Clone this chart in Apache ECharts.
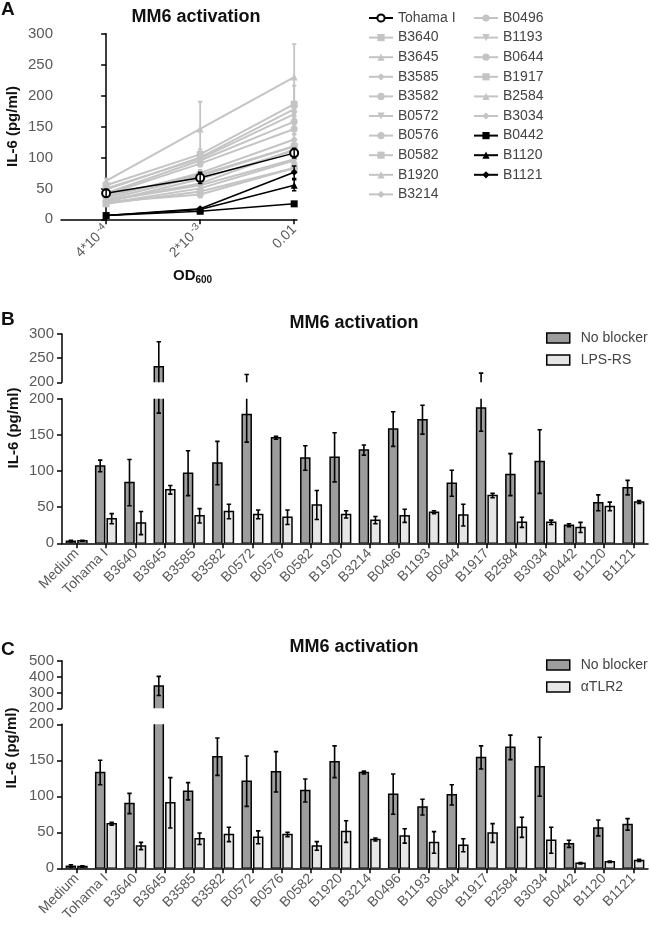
<!DOCTYPE html>
<html><head><meta charset="utf-8">
<script src="https://cdn.jsdelivr.net/npm/echarts@6/dist/echarts.min.js"></script>
<style>html,body{margin:0;padding:0;background:#fff}#c{width:650px;height:937px}</style>
</head><body><div id="c"></div>
<script>
// ---------- Panel A data ----------
const odLabels = [['4*10', '-4'], ['2*10', '-3'], ['0.01', '']];
const strainsA = ['Tohama I','B3640','B3645','B3585','B3582','B0572','B0576','B0582','B1920','B3214',
                  'B0496','B1193','B0644','B1917','B2584','B3034','B0442','B1120','B1121'];
const aLow  = [42, 25, 62, 30, 28, 48, 40, 38, 32, 35, 42, 50, 28, 55, 26, 30, 6, 6, 6];
const aMid  = [67, 45, 146, 55, 65, 100, 90, 72, 70, 75, 95, 98, 40, 105, 50, 58, 13, 16, 17];
const aHigh = [107, 83, 230, 97, 111, 178, 146, 118, 118, 129, 158, 170, 83, 186, 95, 113, 25, 55, 76];
const aSdLow  = [6, 3, 4, 3, 3, 3, 3, 3, 3, 3, 3, 3, 3, 3, 3, 3, 1, 1, 1];
const aSdMid  = [9, 5, 44, 5, 5, 8, 5, 5, 5, 5, 5, 5, 5, 8, 5, 5, 1, 2, 2];
const aSdHigh = [8, 8, 53, 8, 8, 10, 8, 8, 8, 8, 8, 8, 8, 30, 8, 8, 2, 9, 10];
const blackStrains = ['Tohama I', 'B0442', 'B1120', 'B1121'];
const symbolsA = ['emptyCircle','rect','triangle','diamond','circle','triangle','circle','rect','triangle','diamond',
                  'circle','triangle','circle','rect','triangle','diamond','rect','triangle','diamond'];
const invertedA = ['B0572', 'B1193'];

// ---------- Panels B & C data ----------
const catsBC = ['Medium','Tohama I','B3640','B3645','B3585','B3582','B0572','B0576','B0582','B1920',
                'B3214','B0496','B1193','B0644','B1917','B2584','B3034','B0442','B1120','B1121'];
const bNoBlocker   = [3, 107, 84, 232, 97, 111, 178, 146, 118, 119, 129, 158, 171, 83, 187, 95, 113, 25, 56, 77];
const bNoBlockerSd = [1, 8, 32, 52, 31, 30, 38, 2, 17, 34, 7, 24, 20, 18, 32, 29, 44, 2, 11, 10];
const bLpsRs       = [3.5, 34, 28, 74, 38, 44, 40, 36, 53, 40, 32, 38, 43, 39, 66, 29, 29, 22, 51, 57];
const bLpsRsSd     = [0.5, 7, 16, 6, 10, 10, 6, 10, 20, 5, 5, 9, 2, 15, 3, 7, 3, 7, 6, 2];
const cNoBlocker   = [3, 133, 90, 341, 107, 155, 121, 134, 108, 148, 133, 103, 85, 102, 154, 168, 141, 34, 56, 61];
const cNoBlockerSd = [2, 17, 14, 60, 12, 26, 35, 28, 16, 22, 2, 28, 11, 14, 16, 17, 41, 5, 11, 8];
const cTlr2        = [2.5, 62, 31, 91, 41, 47, 43, 47, 31, 51, 40, 45, 36, 32, 49, 57, 39, 7, 9, 11];
const cTlr2Sd      = [1, 2, 5, 35, 8, 10, 9, 3, 6, 15, 2, 10, 15, 9, 13, 14, 18, 1, 1, 1.5];

// ---------- styles ----------
const FONT = 'Liberation Sans, Arial, sans-serif';
const GRAY = '#c4c4c4';
const DARK = '#9d9d9d';
const LIGHT = '#e6e6e6';
const LBL = '#595959';
const BAR_W = 9, BAR_GAP = 0.28;
const BAR_OFF = (BAR_W + BAR_W * BAR_GAP) / 2;
const CAP = 2.2;

function errRender(color, lw) {
  return function (params, api) {
    const x = api.value(0), lo = api.value(1), hi = api.value(2), side = api.value(3);
    const a = api.coord([x, lo]), b = api.coord([x, hi]);
    const cx = a[0] + side * BAR_OFF;
    const st = { stroke: color, lineWidth: lw };
    return { type: 'group', children: [
      { type: 'line', shape: { x1: cx, y1: a[1], x2: cx, y2: b[1] }, style: st },
      { type: 'line', shape: { x1: cx - CAP, y1: b[1], x2: cx + CAP, y2: b[1] }, style: st },
      { type: 'line', shape: { x1: cx - CAP, y1: a[1], x2: cx + CAP, y2: a[1] }, style: st }
    ]};
  };
}
function barRender(fill) {
  return function (params, api) {
    const i = api.value(0), v = api.value(1), side = api.value(2);
    const p0 = api.coord([i, 0]), p1 = api.coord([i, v]);
    const cx = p0[0] + side * BAR_OFF;
    return { type: 'rect', shape: { x: cx - BAR_W / 2, y: p1[1], width: BAR_W, height: p0[1] - p1[1] },
      style: { fill: fill, stroke: '#000', lineWidth: 1.5 } };
  };
}

const axisLineBlack = { show: true, lineStyle: { color: '#000', width: 1.5 } };
const tickBlack = { show: true, length: 5, lineStyle: { color: '#000', width: 1.5 } };

const grid = [
  { left: 61, top: 33.7, width: 236, height: 185.6 },
  { left: 62, top: 334, width: 586, height: 48.3 },
  { left: 62, top: 398.7, width: 586, height: 144.6 },
  { left: 62, top: 660.7, width: 586, height: 47.6 },
  { left: 62, top: 724.3, width: 586, height: 144 }
];

function catAxis(gi, show) {
  return {
    type: 'category', gridIndex: gi, data: catsBC, show: show,
    axisLine: axisLineBlack,
    axisTick: Object.assign({ alignWithLabel: true, interval: 0 }, tickBlack),
    axisLabel: { interval: 0, rotate: 45, color: LBL, fontSize: 14, margin: 8, fontFamily: FONT }
  };
}
function valAxis(gi, min, max, interval) {
  return {
    type: 'value', gridIndex: gi, min: min, max: max, interval: interval,
    axisLine: axisLineBlack, axisTick: tickBlack, splitLine: { show: false },
    axisLabel: { color: LBL, fontSize: 15, margin: 8, fontFamily: FONT }
  };
}

const xAxis = [
  {
    type: 'value', gridIndex: 0, min: -0.48, max: 2.03,
    axisLine: axisLineBlack, splitLine: { show: false },
    axisTick: Object.assign({ customValues: [0, 1, 2] }, tickBlack),
    axisLabel: {
      customValues: [0, 1, 2], rotate: 45, margin: 8,
      formatter: function (v) {
        const l = odLabels[Math.round(v)];
        return l[1] ? '{n|' + l[0] + '}{s|' + l[1] + '}' : '{n|' + l[0] + '}';
      },
      rich: {
        n: { color: LBL, fontSize: 14, fontFamily: FONT },
        s: { color: LBL, fontSize: 10, fontFamily: FONT, padding: [0, 0, 7, 2] }
      }
    }
  },
  catAxis(1, false), catAxis(2, true), catAxis(3, false), catAxis(4, true)
];
const yAxis = [
  valAxis(0, 0, 300, 50),
  valAxis(1, 200, 300, 50),
  valAxis(2, 0, 200, 50),
  valAxis(3, 200, 500, 100),
  valAxis(4, 0, 200, 50)
];

const series = [];
// Panel A lines
const grayIdx = [], blackIdx = [];
strainsA.forEach(function (name, i) {
  const isBlack = blackStrains.indexOf(name) >= 0;
  (isBlack ? blackIdx : grayIdx).push(i);
});
function lineSeries(i) {
  const name = strainsA[i];
  const isBlack = blackStrains.indexOf(name) >= 0;
  const col = isBlack ? '#000' : GRAY;
  return {
    type: 'line', name: name, xAxisIndex: 0, yAxisIndex: 0,
    data: [[0, aLow[i]], [1, aMid[i]], [2, aHigh[i]]],
    symbol: symbolsA[i], symbolSize: symbolsA[i] === 'emptyCircle' ? 8 : 7,
    symbolRotate: invertedA.indexOf(name) >= 0 ? 180 : 0,
    lineStyle: { color: col, width: isBlack ? 1.5 : 2 },
    itemStyle: { color: col, borderWidth: symbolsA[i] === 'emptyCircle' ? 1.5 : 0 },
    z: isBlack ? 4 : 2, animation: false
  };
}
function errDataA(idxs) {
  const d = [];
  idxs.forEach(function (i) {
    [[aLow, aSdLow], [aMid, aSdMid], [aHigh, aSdHigh]].forEach(function (p, k) {
      d.push([k, p[0][i] - p[1][i], p[0][i] + p[1][i], 0]);
    });
  });
  return d;
}
grayIdx.forEach(function (i) { series.push(lineSeries(i)); });
series.push({ type: 'custom', xAxisIndex: 0, yAxisIndex: 0, renderItem: errRender(GRAY, 1.8),
  data: errDataA(grayIdx), encode: { x: 0, y: [1, 2] }, clip: true, z: 3, silent: true });
blackIdx.forEach(function (i) { series.push(lineSeries(i)); });
series.push({ type: 'custom', xAxisIndex: 0, yAxisIndex: 0, renderItem: errRender('#000', 1.5),
  data: errDataA(blackIdx), encode: { x: 0, y: [1, 2] }, clip: true, z: 5, silent: true });

// Panels B & C bars (custom rects, pixel-clipped at the axis break)
function barSeries(gi, name, vals, fill, side) {
  return {
    type: 'custom', name: name, xAxisIndex: gi, yAxisIndex: gi,
    data: vals.map(function (v, i) { return [i, v, side]; }),
    encode: { x: 0, y: 1 }, renderItem: barRender(fill), clip: true,
    itemStyle: { color: fill, borderColor: '#000', borderWidth: 1.5 },
    z: 2, animation: false, silent: true
  };
}
function errSeries(gi, v1, s1, v2, s2) {
  const d = [];
  v1.forEach(function (v, i) { d.push([i, v - s1[i], v + s1[i], -1]); });
  v2.forEach(function (v, i) { d.push([i, v - s2[i], v + s2[i], 1]); });
  return { type: 'custom', xAxisIndex: gi, yAxisIndex: gi, renderItem: errRender('#000', 1.6),
    data: d, encode: { x: 0, y: [1, 2] }, clip: true, z: 5, silent: true };
}
[1, 2].forEach(function (gi) {
  series.push(barSeries(gi, 'No blocker', bNoBlocker, DARK, -1));
  series.push(barSeries(gi, 'LPS-RS', bLpsRs, LIGHT, 1));
  series.push(errSeries(gi, bNoBlocker, bNoBlockerSd, bLpsRs, bLpsRsSd));
});
[3, 4].forEach(function (gi) {
  series.push(barSeries(gi, 'No blocker', cNoBlocker, DARK, -1));
  series.push(barSeries(gi, 'αTLR2', cTlr2, LIGHT, 1));
  series.push(errSeries(gi, cNoBlocker, cNoBlockerSd, cTlr2, cTlr2Sd));
});

const legA = { orient: 'vertical', padding: 0, itemWidth: 24, itemHeight: 9, itemGap: 3.6,
  textStyle: { color: '#444', fontSize: 14, fontFamily: FONT, lineHeight: 16 }, selectedMode: false };
const legBar = { orient: 'vertical', padding: 0, icon: 'rect', itemWidth: 23, itemHeight: 10, itemGap: 6,
  itemStyle: { borderColor: '#000', borderWidth: 1.5 },
  textStyle: { color: '#444', fontSize: 14, fontFamily: FONT, lineHeight: 16, padding: [0, 0, 0, 6] }, selectedMode: false };

const legend = [
  Object.assign({}, legA, { left: 368, top: 10, data: strainsA.slice(0, 10) }),
  Object.assign({}, legA, { left: 473, top: 10, data: strainsA.slice(10) }),
  Object.assign({}, legBar, { left: 546, top: 330, data: ['No blocker', 'LPS-RS'] }),
  Object.assign({}, legBar, { left: 546, top: 657, data: ['No blocker', 'αTLR2'] })
];

function txt(x, y, text, size, bold, extra) {
  return Object.assign({ type: 'text', x: x, y: y, style: { text: text, fill: '#111',
    font: (bold ? 'bold ' : '') + size + 'px ' + FONT, textAlign: 'center', textVerticalAlign: 'middle' } }, extra || {});
}
const graphic = [
  { type: 'text', left: 1, top: 0, style: { text: 'A', fill: '#111', font: 'bold 19px ' + FONT } },
  { type: 'text', left: 1, top: 310, style: { text: 'B', fill: '#111', font: 'bold 19px ' + FONT } },
  { type: 'text', left: 1, top: 640, style: { text: 'C', fill: '#111', font: 'bold 19px ' + FONT } },
  txt(196, 17, 'MM6 activation', 18, true),
  txt(354, 323, 'MM6 activation', 18, true),
  txt(354, 647, 'MM6 activation', 18, true),
  txt(13, 126.5, 'IL-6 (pg/ml)', 15, true, { rotation: Math.PI / 2 }),
  txt(14, 428, 'IL-6 (pg/ml)', 15, true, { rotation: Math.PI / 2 }),
  txt(12, 748, 'IL-6 (pg/ml)', 15, true, { rotation: Math.PI / 2 }),
  { type: 'text', x: 173, y: 266, style: { text: '{a|OD}{b|600}', rich: {
      a: { fill: '#111', font: 'bold 15px ' + FONT },
      b: { fill: '#111', font: 'bold 10px ' + FONT, padding: [9, 0, 0, 0] } } } }
];

const chart = echarts.init(document.getElementById('c'), null, { renderer: 'canvas' });
chart.setOption({
  animation: false,
  textStyle: { fontFamily: FONT },
  grid: grid, xAxis: xAxis, yAxis: yAxis, legend: legend, graphic: graphic, series: series
});
</script></body></html>
